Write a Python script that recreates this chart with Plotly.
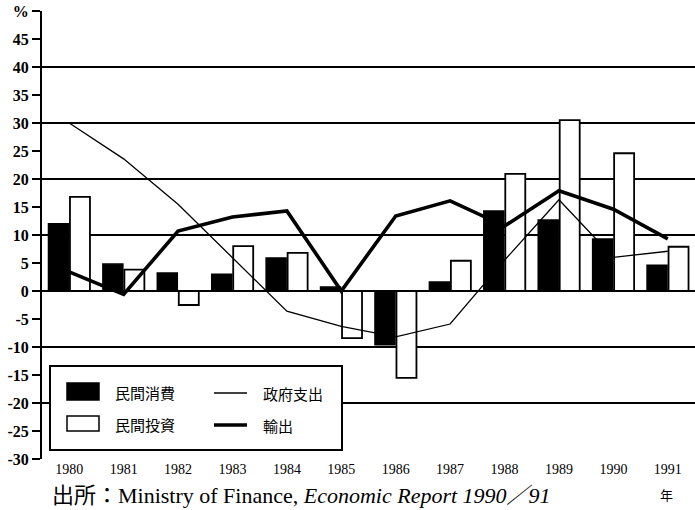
import plotly.graph_objects as go

years = ["1980", "1981", "1982", "1983", "1984", "1985", "1986", "1987", "1988", "1989", "1990", "1991"]
consumption = [12.0, 4.8, 3.2, 3.0, 5.9, 0.7, -9.6, 1.6, 14.3, 12.7, 9.3, 4.6]      # 民間消費
investment = [16.8, 3.8, -2.5, 8.0, 6.8, -8.4, -15.5, 5.4, 20.9, 30.5, 24.6, 7.9]   # 民間投資
government = [30.0, 23.6, 15.5, 6.0, -3.6, -6.3, -8.2, -5.9, 5.5, 16.3, 6.0, 7.1]  # 政府支出
exports = [3.4, -0.6, 10.7, 13.2, 14.3, 0.0, 13.4, 16.1, 11.6, 17.9, 14.6, 9.3]    # 輸出
ytick_vals = [-30, -25, -20, -15, -10, -5, 0, 5, 10, 15, 20, 25, 30, 35, 40, 45, 50]
ytick_text = ["-30", "-25", "-20", "-15", "-10", "-5", "0", "5", "10", "15", "20", "25", "30", "35", "40", "45", "%"]

W, H = 695, 510
ML, MR, MT, MB = 42, 0, 11, 51
PW, PH = W - ML - MR, H - MT - MB

def px(x):
    return (x - ML) / PW

def py(y):
    return (H - MB - y) / PH

SERIF = "Liberation Serif"
CJK = "Noto Sans CJK JP"

fig = go.Figure()
fig.add_trace(go.Bar(x=years, y=consumption, name="民間消費",
                     marker=dict(color="black", line=dict(color="black", width=1.5)),
                     showlegend=False))
fig.add_trace(go.Bar(x=years, y=investment, name="民間投資",
                     marker=dict(color="white", line=dict(color="black", width=1.8)),
                     showlegend=False))
fig.add_trace(go.Scatter(x=years, y=government, name="政府支出", mode="lines",
                         line=dict(color="black", width=1.3), showlegend=False))
fig.add_trace(go.Scatter(x=years, y=exports, name="輸出", mode="lines",
                         line=dict(color="black", width=3.6), showlegend=False))

# gridlines overlay axis (every 10)
fig.add_trace(go.Scatter(x=[years[0]], y=[None], yaxis="y2", showlegend=False, hoverinfo="skip"))

shapes = []
ann = []
# legend box
shapes.append(dict(type="rect", xref="paper", yref="paper", x0=px(50), x1=px(342), y0=py(450), y1=py(366),
                   line=dict(color="black", width=2), fillcolor="white", layer="above"))
shapes.append(dict(type="rect", xref="paper", yref="paper", x0=px(67), x1=px(99), y0=py(400), y1=py(383),
                   line=dict(color="black", width=1.5), fillcolor="black", layer="above"))
shapes.append(dict(type="rect", xref="paper", yref="paper", x0=px(67), x1=px(99), y0=py(431), y1=py(416),
                   line=dict(color="black", width=1.5), fillcolor="white", layer="above"))
shapes.append(dict(type="line", xref="paper", yref="paper", x0=px(214), x1=px(247), y0=py(393), y1=py(393),
                   line=dict(color="black", width=1.3), layer="above"))
shapes.append(dict(type="line", xref="paper", yref="paper", x0=px(214), x1=px(247), y0=py(425), y1=py(425),
                   line=dict(color="black", width=3.6), layer="above"))
for txt, x, y in [("民間消費", 113, 392), ("民間投資", 113, 424), ("政府支出", 261, 393), ("輸出", 261, 425)]:
    ann.append(dict(text=txt, xref="paper", yref="paper", x=px(x), y=py(y), xanchor="left", yanchor="middle",
                    showarrow=False, font=dict(family=CJK, size=15, color="black")))

ann.append(dict(text="出所：Ministry of Finance, <i>Economic Report 1990／91</i>", xref="paper", yref="paper",
                x=px(50), y=py(510), xanchor="left", yanchor="bottom", showarrow=False,
                font=dict(family=SERIF + ", " + CJK, size=22, color="black")))
ann.append(dict(text="年", xref="paper", yref="paper", x=px(666), y=py(494), xanchor="center", yanchor="middle",
                showarrow=False, font=dict(family=CJK, size=13, color="black")))

fig.update_layout(
    width=W, height=H,
    margin=dict(l=ML, r=MR, t=MT, b=MB, autoexpand=False),
    paper_bgcolor="white", plot_bgcolor="white",
    barmode="group", bargap=0.21, bargroupgap=0.07,
    shapes=shapes, annotations=ann,
    xaxis=dict(type="category", range=[-0.5, 11.5], showgrid=False, showline=False, ticks="",
               tickfont=dict(family=SERIF, size=14, color="black"), zeroline=False),
    yaxis=dict(range=[-30, 50], tickvals=ytick_vals, ticktext=["<b>" + t + "</b>" for t in ytick_text],
               showgrid=False, ticks="outside", ticklen=8, tickwidth=1.5, tickcolor="black",
               showline=True, linecolor="black", linewidth=2, zeroline=False,
               tickfont=dict(family=SERIF, size=16, color="black")),
    yaxis2=dict(range=[-30, 50], overlaying="y", dtick=10, tick0=0, showgrid=True, gridcolor="black",
                gridwidth=1.5, showticklabels=False, ticks="", zeroline=False, showline=False),
    font=dict(family=SERIF, color="black"),
)
fig.write_html("out.html", config={"displayModeBar": False},
               post_script="document.body.style.margin='0';")
